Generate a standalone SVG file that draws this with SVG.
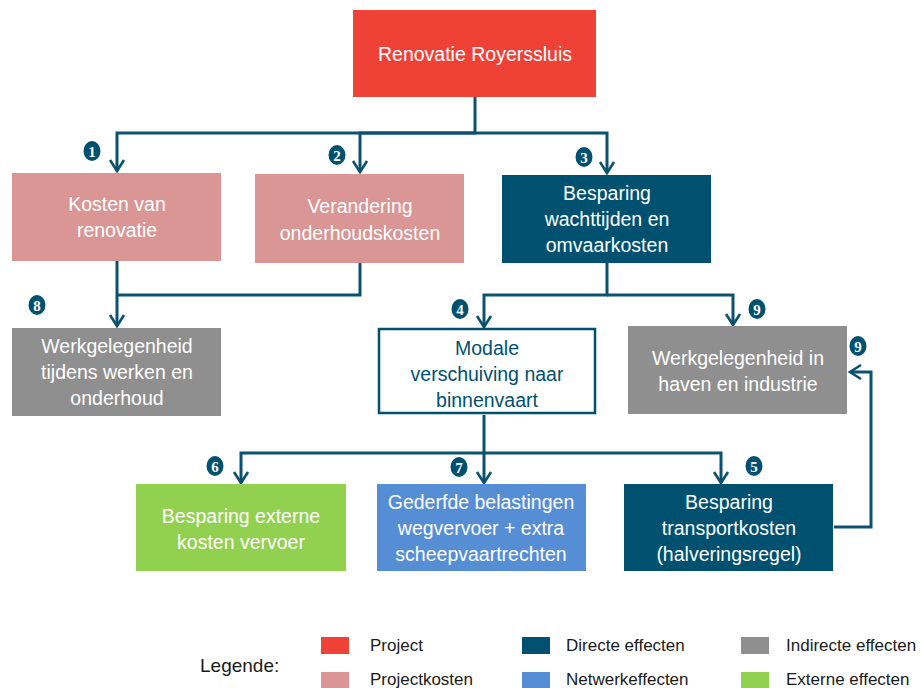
<svg xmlns="http://www.w3.org/2000/svg" width="922" height="688" viewBox="0 0 922 688">
<style>
text{font-family:"Liberation Sans","Open Sans",sans-serif;font-size:19.5px;text-anchor:middle;fill:#ffffff}
.dark{fill:#005170}
.pink{fill:#d99694}
.grey{fill:#8f8f8f}
.red{fill:#ef4136}
.blue{fill:#558ed5}
.green{fill:#92d050}
.conn{fill:none;stroke:#0a5270;stroke-width:3}
.head{fill:none;stroke:#0a5270;stroke-width:2.6}
.badge ellipse{fill:#005170}
.badge text{font-family:"Liberation Serif","DejaVu Serif",serif;font-weight:bold;font-size:15px;fill:#ffffff}
.leg text{fill:#1a1a1a;text-anchor:start;font-size:17px}
.tt{fill:#005170}
</style>

<g id="connectors">
<path class="conn" d="M475,97 V133 H117 V171"/>
<path class="conn" d="M475,133 H360 V172"/>
<path class="conn" d="M475,133 H607 V173"/>
<path class="conn" d="M117,261 V326"/>
<path class="conn" d="M360,263 V295 H117"/>
<path class="conn" d="M607,263 V295 H484 V327"/>
<path class="conn" d="M607,295 H733 V325"/>
<path class="conn" d="M484,415 V453 H241 V483"/>
<path class="conn" d="M484,453 V483"/>
<path class="conn" d="M484,453 H721 V483"/>
<path class="conn" d="M834,527 H871 V372 H851"/>
<path class="head" d="M110,160 L117,171 L124,160"/>
<path class="head" d="M353,161 L360,172 L367,161"/>
<path class="head" d="M600,162 L607,173 L614,162"/>
<path class="head" d="M110,315 L117,326 L124,315"/>
<path class="head" d="M477,316 L484,327 L491,316"/>
<path class="head" d="M726,314 L733,325 L740,314"/>
<path class="head" d="M234,472 L241,483 L248,472"/>
<path class="head" d="M477,472 L484,483 L491,472"/>
<path class="head" d="M714,472 L721,483 L728,472"/>
<path class="head" d="M861,365 L850,372 L861,379"/>
</g>

<g id="n-project">
<rect class="red" x="353" y="10" width="243" height="87"/>
<text x="475" y="61">Renovatie Royerssluis</text>
</g>
<g id="n-kosten">
<rect class="pink" x="12" y="173" width="209" height="88"/>
<text x="117" y="211">Kosten van</text>
<text x="117" y="237">renovatie</text>
</g>
<g id="n-onderhoud">
<rect class="pink" x="255" y="174" width="209" height="89"/>
<text x="360" y="213">Verandering</text>
<text x="360" y="240">onderhoudskosten</text>
</g>
<g id="n-besparing-wacht">
<rect class="dark" x="502" y="175" width="209" height="88"/>
<text x="607" y="200">Besparing</text>
<text x="607" y="226">wachttijden en</text>
<text x="607" y="252">omvaarkosten</text>
</g>
<g id="n-werk-tijdens">
<rect class="grey" x="12" y="328" width="209" height="88"/>
<text x="117" y="353">Werkgelegenheid</text>
<text x="117" y="379">tijdens werken en</text>
<text x="117" y="405">onderhoud</text>
</g>
<g id="n-modale">
<rect x="379" y="329" width="216" height="84" fill="#ffffff" stroke="#005170" stroke-width="2.5"/>
<text class="tt" x="487" y="355">Modale</text>
<text class="tt" x="487" y="381">verschuiving naar</text>
<text class="tt" x="487" y="407">binnenvaart</text>
</g>
<g id="n-werk-haven">
<rect class="grey" x="628" y="326" width="219" height="88"/>
<text x="738" y="365">Werkgelegenheid in</text>
<text x="738" y="391">haven en industrie</text>
</g>
<g id="n-extern">
<rect class="green" x="136" y="484" width="210" height="87"/>
<text x="241" y="523">Besparing externe</text>
<text x="241" y="549">kosten vervoer</text>
</g>
<g id="n-gederfde">
<rect class="blue" x="377" y="484" width="209" height="87"/>
<text x="481" y="509">Gederfde belastingen</text>
<text x="481" y="535">wegvervoer + extra</text>
<text x="481" y="561">scheepvaartrechten</text>
</g>
<g id="n-transport">
<rect class="dark" x="624" y="484" width="209" height="87"/>
<text x="729" y="509">Besparing</text>
<text x="729" y="535">transportkosten</text>
<text x="729" y="561">(halveringsregel)</text>
</g>

<g id="badges" class="badge">
<g><ellipse cx="92" cy="151" rx="8.5" ry="10"/><text x="92" y="156.5">1</text></g>
<g><ellipse cx="337" cy="155" rx="8.5" ry="10"/><text x="337" y="160.5">2</text></g>
<g><ellipse cx="584" cy="157" rx="8.5" ry="10"/><text x="584" y="162.5">3</text></g>
<g><ellipse cx="37" cy="305" rx="8.5" ry="10"/><text x="37" y="310.5">8</text></g>
<g><ellipse cx="460" cy="309" rx="8.5" ry="10"/><text x="460" y="314.5">4</text></g>
<g><ellipse cx="757" cy="309" rx="8.5" ry="10"/><text x="757" y="314.5">9</text></g>
<g><ellipse cx="858" cy="346" rx="8.5" ry="10"/><text x="858" y="351.5">9</text></g>
<g><ellipse cx="215" cy="466" rx="8.5" ry="10"/><text x="215" y="471.5">6</text></g>
<g><ellipse cx="459" cy="467" rx="8.5" ry="10"/><text x="459" y="472.5">7</text></g>
<g><ellipse cx="754" cy="466" rx="8.5" ry="10"/><text x="754" y="471.5">5</text></g>
</g>

<g id="legend" class="leg">
<text x="200" y="672" style="font-size:19px">Legende:</text>
<rect class="red" x="321" y="637" width="28" height="17"/>
<text x="370" y="651">Project</text>
<rect class="pink" x="321" y="672" width="28" height="16"/>
<text x="370" y="685">Projectkosten</text>
<rect class="dark" x="522" y="637" width="28" height="17"/>
<text x="566" y="651">Directe effecten</text>
<rect class="blue" x="522" y="672" width="28" height="16"/>
<text x="566" y="685">Netwerkeffecten</text>
<rect class="grey" x="741" y="637" width="28" height="17"/>
<text x="786" y="651">Indirecte effecten</text>
<rect class="green" x="741" y="672" width="28" height="16"/>
<text x="786" y="685">Externe effecten</text>
</g>
</svg>
